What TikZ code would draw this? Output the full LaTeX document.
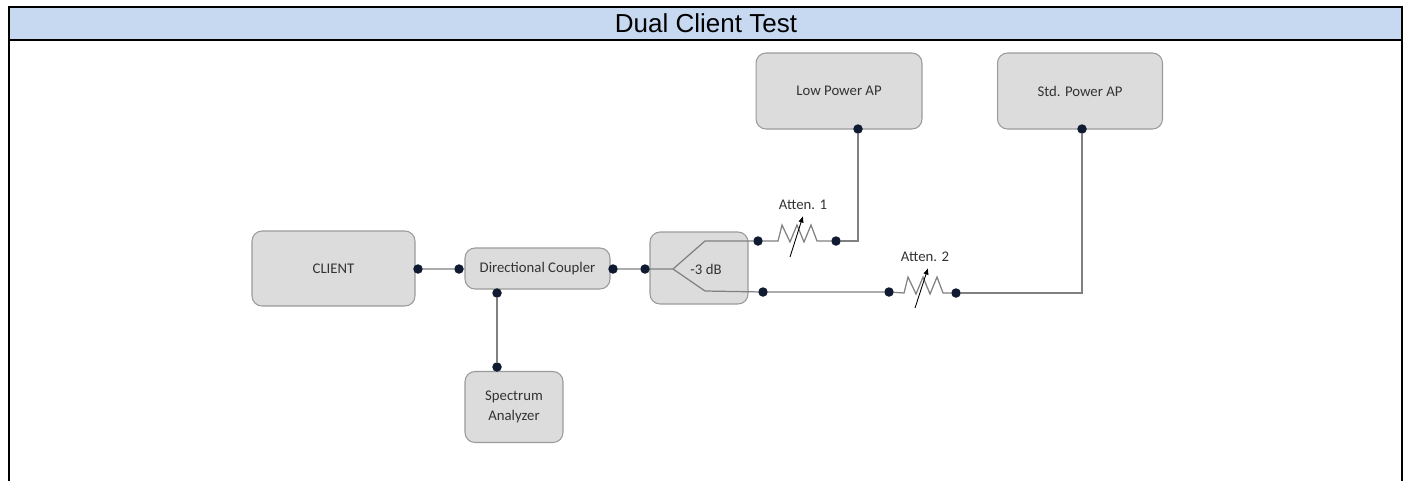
\documentclass[tikz,border=0pt]{standalone}
\usepackage{fontspec}
\setmainfont{Carlito}
\newfontfamily\headfont{Liberation Sans}
\usepackage{tikz}
\usetikzlibrary{arrows.meta}
\definecolor{headblue}{HTML}{C6D9F1}
\definecolor{boxgray}{HTML}{DCDCDC}
\definecolor{edgegray}{HTML}{9A9A9A}
\definecolor{wiregray}{HTML}{808080}
\definecolor{dotnavy}{HTML}{101A30}
\definecolor{txtgray}{HTML}{333333}

\begin{document}
\begin{tikzpicture}[x=0.02cm,y=-0.02cm,
    box/.style={draw=edgegray,line width=0.6pt,fill=boxgray,rounded corners=0.2cm,
        inner sep=0pt,text=txtgray,font=\fontsize{8.4}{11}\selectfont},
    dot/.style={circle,fill=dotnavy,inner sep=0pt,minimum size=0.19cm},
    wire/.style={draw=wiregray,line width=0.7pt},
    tune/.style={draw=black,line width=0.5pt,-{Latex[length=1.3mm,width=1.1mm]}},
    lbl/.style={text=txtgray,font=\fontsize{8.4}{10}\selectfont,inner sep=0pt}]
    \useasboundingbox (0,0) rectangle (1405,481);
    % table frame
    \fill[headblue] (9,7) rectangle (1402,40);
    \draw[line width=1.1pt] (9,481) -- (9,7) -- (1402,7) -- (1402,481);
    \draw[line width=0.6pt] (9,40) -- (1402,40);
    \draw[line width=1.1pt] (9,40) -- (243,40);
    \draw[line width=1.1pt] (1168,40) -- (1402,40);
    \node[font=\headfont\fontsize{14.8}{16}\selectfont] (title) at (706,23) {Dual Client Test};
    % boxes
    \node[box,minimum width=3.26cm,minimum height=1.5cm] (client) at (333.5,268.5) {CLIENT};
    \node[box,minimum width=2.9cm,minimum height=0.82cm] (cpl) at (537.5,268.5) {Directional Coupler};
    \node[box,minimum width=1.96cm,minimum height=1.42cm,align=center] (ana) at (514,407) {Spectrum\\Analyzer};
    \node[box,minimum width=1.96cm,minimum height=1.44cm] (spl) at (699,268) {};
    \node[lbl] (db) at (706,269) {-3 dB};
    \node[box,minimum width=3.32cm,minimum height=1.52cm] (lowap) at (839,91) {Low Power AP};
    \node[box,minimum width=3.3cm,minimum height=1.52cm] (stdap) at (1080,91) {Std. Power AP};
    % splitter legs
    \coordinate (fork) at (673,269);
    \coordinate (legT) at (705,241);
    \coordinate (legB) at (705,291);
    % resistors
    \coordinate (r1a) at (778,241);
    \coordinate (r2a) at (904,293);
    \node[lbl] (at1) at (803,205) {Atten. 1};
    \node[lbl] (at2) at (925,257) {Atten. 2};
    % dots
    \node[dot] (cliR) at (418,269) {};
    \node[dot] (cplL) at (459,269) {};
    \node[dot] (cplR) at (613,269) {};
    \node[dot] (splL) at (645,269) {};
    \node[dot] (cplB) at (497,293) {};
    \node[dot] (anaT) at (497,367) {};
    \node[dot] (splT) at (758,241) {};
    \node[dot] (at1R) at (836,241) {};
    \node[dot] (lowB) at (858,129) {};
    \node[dot] (splB) at (763,292) {};
    \node[dot] (at2L) at (889,292) {};
    \node[dot] (at2R) at (956,293) {};
    \node[dot] (stdB) at (1082,129) {};
    % wires
    \draw[wire] (cliR) -- (cplL) -- (cpl.west);
    \draw[wire] (cplR) -- (splL) -- (fork) -- (legT) -- (splT);
    \draw[wire] (fork) -- (legB) -- (splB);
    \draw[wire] (cplB) -- (anaT);
    \draw[wire] (splT) -- (r1a) -- ++(4,-16) -- ++(8,17) -- ++(7,-17) -- ++(7,17) -- ++(7,-17) -- ++(6,16) -- (at1R);
    \draw[wire] (at1R) -| (lowB);
    \draw[wire] (splB) -- (at2L) -- (r2a) -- ++(4,-16) -- ++(8,17) -- ++(7,-17) -- ++(7,17) -- ++(7,-17) -- ++(6,16) -- (at2R);
    \draw[wire] (at2R) -| (stdB);
    \draw[tune] (790,257) -- (803,216);
    \draw[tune] (915,308) -- (928,268);
\end{tikzpicture}
\end{document}
